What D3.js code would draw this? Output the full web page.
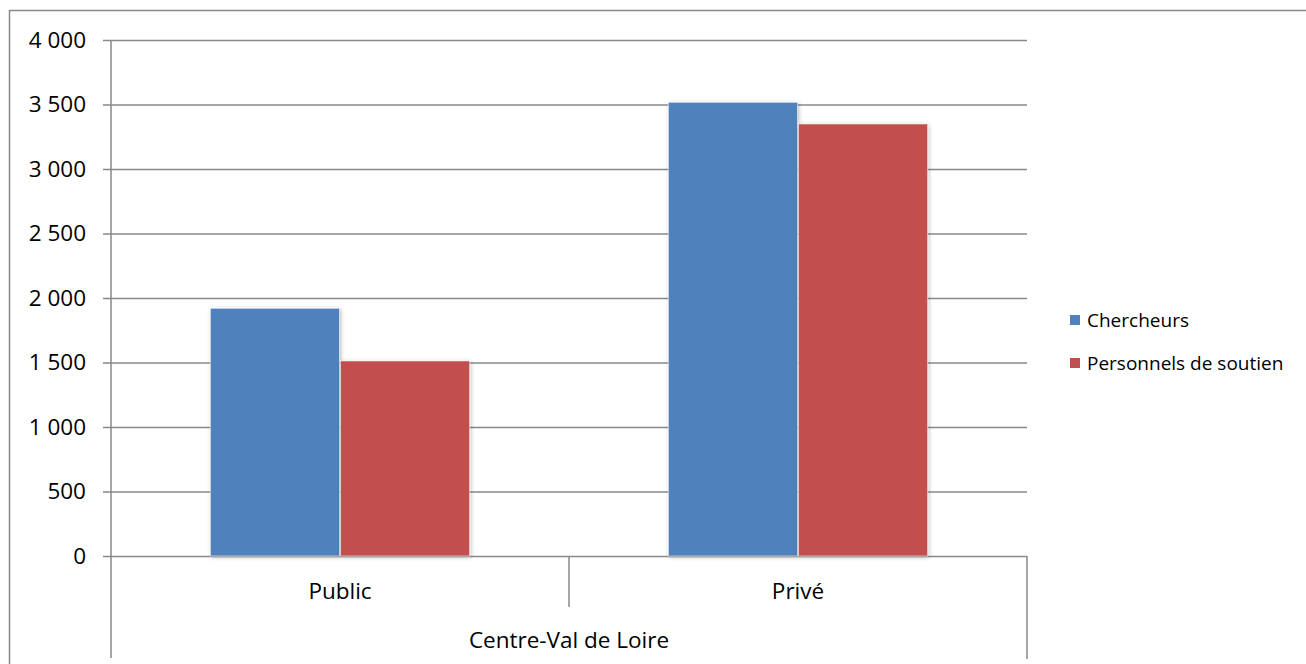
<!DOCTYPE html>
<html>
<head>
<meta charset="utf-8">
<script src="https://cdn.jsdelivr.net/npm/d3@7"></script>
<style>
  html, body { margin: 0; padding: 0; background: #fff; }
  svg { display: block; font-family: "Open Sans", "Noto Sans", sans-serif; }
</style>
</head>
<body>
<svg id="chart" width="1306" height="664"></svg>
<script>
// Effectifs de R&D par secteur, région Centre-Val de Loire
const region = "Centre-Val de Loire";
const sectors = ["Public", "Privé"];
const seriesNames = ["Chercheurs", "Personnels de soutien"];
const chercheurs = [1920, 3517];
const soutien = [1512, 3349];
const yTicks = [0, 500, 1000, 1500, 2000, 2500, 3000, 3500, 4000];
const colors = ["#4F81BD", "#C0504D"];

const rows = sectors.map((s, i) => ({ sector: s, values: [chercheurs[i], soutien[i]] }));

const svg = d3.select("#chart");
const gridColor = "#888888";

const plot = { left: 111, right: 1027, top: 40, bottom: 556 };

// Shadow under bars
const defs = svg.append("defs");
const f = defs.append("filter").attr("id", "barShadow")
  .attr("x", "-10%").attr("y", "-10%").attr("width", "120%").attr("height", "120%");
f.append("feGaussianBlur").attr("in", "SourceAlpha").attr("stdDeviation", 2.2).attr("result", "b");
f.append("feOffset").attr("in", "b").attr("dx", 1).attr("dy", 1).attr("result", "o");
f.append("feComponentTransfer").attr("in", "o").attr("result", "s")
  .append("feFuncA").attr("type", "linear").attr("slope", 0.28);
const m = f.append("feMerge");
m.append("feMergeNode").attr("in", "s");
m.append("feMergeNode").attr("in", "SourceGraphic");

// Outer frame (open to the right and bottom)
svg.append("path")
  .attr("d", `M9.5,664 V10.5 H1306`)
  .attr("fill", "none").attr("stroke", gridColor).attr("stroke-width", 1.5);

const y = d3.scaleLinear().domain([0, 4000]).range([plot.bottom, plot.top]);
const x0 = d3.scaleBand().domain(sectors).range([plot.left, plot.right]).padding(0);
const x1 = d3.scaleBand().domain(seriesNames).range([0, x0.bandwidth()])
  .paddingInner(0).paddingOuter(0.76);

// Horizontal gridlines
const grid = svg.append("g").attr("transform", `translate(${plot.left},0)`)
  .call(d3.axisLeft(y).tickValues(yTicks).tickSize(-(plot.right - plot.left)).tickFormat(""));
grid.select(".domain").remove();
grid.selectAll("line").attr("stroke", gridColor).attr("stroke-width", 1.5);

// Y axis with labels and outward ticks
const fmt = v => d3.format(",")(v).replace(/,/g, "\u00a0");
const yAxis = svg.append("g").attr("transform", `translate(${plot.left},0)`)
  .call(d3.axisLeft(y).tickValues(yTicks).tickSize(8).tickPadding(17).tickFormat(fmt));
yAxis.select(".domain").remove();
yAxis.selectAll("line").attr("stroke", gridColor).attr("stroke-width", 1.5);
yAxis.selectAll("text").attr("font-size", 22.5).attr("fill", "#000")
  .attr("font-family", "'Open Sans', sans-serif").attr("dy", "0.33em");

// Vertical axis line continuing down through the category area
svg.append("line").attr("x1", plot.left).attr("x2", plot.left)
  .attr("y1", plot.top).attr("y2", 658)
  .attr("stroke", gridColor).attr("stroke-width", 1.5);

// Category axis: separators between sectors and closing line
svg.append("line").attr("x1", plot.right).attr("x2", plot.right)
  .attr("y1", plot.top).attr("y2", 659)
  .attr("stroke", gridColor).attr("stroke-width", 1.5)
  .attr("y1", plot.bottom);
sectors.slice(1).forEach(s => {
  const xs = x0(s);
  svg.append("line").attr("x1", xs).attr("x2", xs)
    .attr("y1", plot.bottom).attr("y2", 607)
    .attr("stroke", gridColor).attr("stroke-width", 1.5);
});

// Bars
const groups = svg.append("g").selectAll("g").data(rows).join("g")
  .attr("transform", d => `translate(${x0(d.sector)},0)`);
groups.selectAll("rect")
  .data(d => d.values.map((v, i) => ({ key: seriesNames[i], value: v, i })))
  .join("rect")
  .attr("x", d => x1(d.key) + 0.5)
  .attr("width", x1.bandwidth() - 1)
  .attr("y", d => y(d.value))
  .attr("height", d => y(0) - y(d.value))
  .attr("fill", d => colors[d.i])
  .attr("stroke", "#ffffff").attr("stroke-opacity", 0.55).attr("stroke-width", 1)
  .attr("filter", "url(#barShadow)");

// Sector labels
svg.append("g").selectAll("text").data(sectors).join("text")
  .attr("x", d => x0(d) + x0.bandwidth() / 2)
  .attr("y", 599)
  .attr("text-anchor", "middle")
  .attr("font-size", 22.5).attr("fill", "#000")
  .text(d => d);

// Region label
svg.append("text")
  .attr("x", (plot.left + plot.right) / 2)
  .attr("y", 648)
  .attr("text-anchor", "middle")
  .attr("font-size", 22.5).attr("fill", "#000")
  .text(region);

// Legend
const legend = svg.append("g").selectAll("g").data(seriesNames).join("g")
  .attr("transform", (d, i) => `translate(1070,${315 + i * 43})`);
legend.append("rect").attr("width", 10).attr("height", 10)
  .attr("fill", (d, i) => colors[i]);
legend.append("text").attr("x", 17).attr("y", 11.5)
  .attr("font-size", 19).attr("fill", "#000")
  .text(d => d);
</script>
</body>
</html>
